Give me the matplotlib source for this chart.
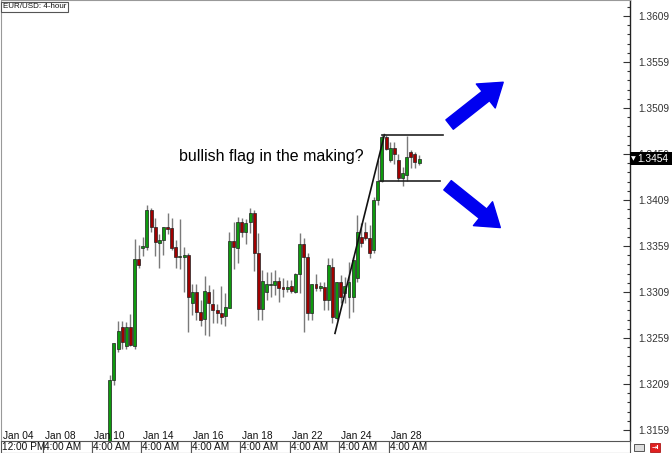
import matplotlib
matplotlib.use('Agg')
import matplotlib.pyplot as plt
from matplotlib.patches import Rectangle

PAIR_LABEL = 'EUR/USD: 4-hour'
NOTE = 'bullish flag in the making?'

# 4-hour candles (index 0 = first visible candle)
opens = [1.3143, 1.3213, 1.3247, 1.3271, 1.3250, 1.3271, 1.3250, 1.3345, 1.3357, 1.3358,
         1.3398, 1.3380, 1.3362, 1.3366, 1.3380, 1.3379, 1.3358, 1.3347, 1.3347, 1.3349,
         1.3297, 1.3309, 1.3287, 1.3280, 1.3309, 1.3296, 1.3289, 1.3286, 1.3283, 1.3292,
         1.3364, 1.3357, 1.3385, 1.3374, 1.3385, 1.3395, 1.3351, 1.3291, 1.3309, 1.3317,
         1.3317, 1.3321, 1.3314, 1.3312, 1.3316, 1.3309, 1.3328, 1.3361, 1.3347, 1.3286,
         1.3318, 1.3313, 1.3314, 1.3300, 1.3336, 1.3281, 1.3320, 1.3308, 1.3303, 1.3303,
         1.3324, 1.3369, 1.3374, 1.3368, 1.3355, 1.3409, 1.3430, 1.3478, 1.3453, 1.3466,
         1.3453, 1.3433, 1.3436, 1.3461, 1.3459, 1.3449]
highs = [1.3219, 1.3254, 1.3277, 1.3277, 1.3276, 1.3285, 1.3367, 1.3360, 1.3369, 1.3404,
         1.3400, 1.3389, 1.3372, 1.3380, 1.3395, 1.3389, 1.3366, 1.3388, 1.3358, 1.3351,
         1.3318, 1.3318, 1.3300, 1.3326, 1.3317, 1.3312, 1.3296, 1.3316, 1.3308, 1.3374,
         1.3385, 1.3391, 1.3389, 1.3388, 1.3400, 1.3398, 1.3373, 1.3333, 1.3331, 1.3331,
         1.3333, 1.3325, 1.3324, 1.3322, 1.3322, 1.3330, 1.3373, 1.3368, 1.3351, 1.3318,
         1.3329, 1.3320, 1.3320, 1.3346, 1.3346, 1.3320, 1.3327, 1.3325, 1.3342, 1.3347,
         1.3393, 1.3384, 1.3385, 1.3382, 1.3412, 1.3453, 1.3480, 1.3480, 1.3472, 1.3472,
         1.3459, 1.3445, 1.3479, 1.3463, 1.3461, 1.3458]
lows = [1.3137, 1.3208, 1.3244, 1.3247, 1.3247, 1.3250, 1.3247, 1.3335, 1.3348, 1.3355,
        1.3374, 1.3348, 1.3335, 1.3349, 1.3372, 1.3355, 1.3335, 1.3334, 1.3309, 1.3266,
        1.3284, 1.3278, 1.3272, 1.3262, 1.3261, 1.3275, 1.3275, 1.3274, 1.3272, 1.3292,
        1.3334, 1.3341, 1.3369, 1.3361, 1.3373, 1.3332, 1.3279, 1.3279, 1.3300, 1.3303,
        1.3306, 1.3298, 1.3304, 1.3309, 1.3308, 1.3308, 1.3308, 1.3266, 1.3279, 1.3279,
        1.3310, 1.3310, 1.3289, 1.3289, 1.3275, 1.3279, 1.3297, 1.3297, 1.3281, 1.3287,
        1.3320, 1.3358, 1.3366, 1.3346, 1.3351, 1.3404, 1.3429, 1.3463, 1.3450, 1.3448,
        1.3430, 1.3424, 1.3430, 1.3444, 1.3444, 1.3447]
closes = [1.3213, 1.3253, 1.3267, 1.3255, 1.3271, 1.3251, 1.3345, 1.3338, 1.3359, 1.3398,
          1.3380, 1.3363, 1.3366, 1.3380, 1.3378, 1.3357, 1.3347, 1.3348, 1.3349, 1.3303,
          1.3309, 1.3287, 1.3279, 1.3310, 1.3297, 1.3289, 1.3286, 1.3282, 1.3293, 1.3364,
          1.3358, 1.3385, 1.3374, 1.3384, 1.3395, 1.3351, 1.3291, 1.3321, 1.3318, 1.3318,
          1.3321, 1.3313, 1.3312, 1.3314, 1.3310, 1.3329, 1.3361, 1.3347, 1.3286, 1.3318,
          1.3313, 1.3316, 1.3300, 1.3338, 1.3282, 1.3320, 1.3303, 1.3316, 1.3320, 1.3344,
          1.3374, 1.3362, 1.3368, 1.3351, 1.3409, 1.3430, 1.3478, 1.3464, 1.3466, 1.3459,
          1.3433, 1.3438, 1.3456, 1.3456, 1.3450, 1.3454]

date_ticks = [-26.4, -16.2, -4.4, 7.6, 19.6, 31.6, 43.6, 55.6, 67.6]
date_labels = ['Jan 04', 'Jan 08', 'Jan 10', 'Jan 14', 'Jan 16', 'Jan 18',
               'Jan 22', 'Jan 24', 'Jan 28']
time_labels = ['12:00 PM'] + ['4:00 AM'] * 8

price_ticks = [1.3159, 1.3209, 1.3259, 1.3309, 1.3359, 1.3409,
               1.3459, 1.3509, 1.3559, 1.3609]

# drawn annotations, anchored in (candle index, price)
trend_x = [54.6, 66.6]
trend_y = [1.3264, 1.3480]
flag_top_x, flag_top = [65.9, 80.9], 1.3480
flag_bot_x, flag_bot = [65.4, 80.1], 1.3430
arrow_up = ((82.4, 1.3491), (95.4, 1.3537))
arrow_down = ((81.9, 1.3425), (94.7, 1.3379))

FONT = ['Liberation Sans', 'DejaVu Sans']
plt.rcParams['font.family'] = FONT

fig = plt.figure(figsize=(6.72, 4.53), dpi=100)
ax = fig.add_axes([0.0015, 12 / 453, 629 / 672, 441 / 453])
ax.set_xlim(-26.39, 126.15)
ax.set_ylim(1.31470, 1.36264)

# candles
for i, (o, h, l, c) in enumerate(zip(opens, highs, lows, closes)):
    up = c >= o
    ax.vlines(i, l, h, color='#7a7a7a', linewidth=1.0, zorder=2)
    body = abs(c - o) if abs(c - o) > 0.00005 else 0.00005
    ax.bar(i, body, bottom=min(o, c), width=0.72,
           color='#0e9a0e' if up else '#a00000',
           edgecolor='#202020', linewidth=0.5, zorder=3)

# trend line and flag
ax.plot(trend_x, trend_y, color='#111111', linewidth=1.2, zorder=4)
ax.plot(flag_top_x, [flag_top, flag_top], color='#222222', linewidth=1.2, zorder=4)
ax.plot(flag_bot_x, [flag_bot, flag_bot], color='#222222', linewidth=1.2, zorder=4)

arrow_style = 'simple,head_length=0.8,head_width=1.1,tail_width=0.43'
for tail, tip in (arrow_up, arrow_down):
    ax.annotate('', xy=tip, xytext=tail,
                arrowprops=dict(arrowstyle=arrow_style, mutation_scale=20,
                                color='#0000f0', shrinkA=0, shrinkB=0),
                zorder=5)

ax.text(16.7, 1.3456, NOTE, fontsize=11.5, color='black', va='center', ha='left')

# right price axis
ax.yaxis.tick_right()
ax.set_yticks(price_ticks)
ax.set_yticklabels(['%.4f' % p for p in price_ticks])
ax.set_yticks([p + k * 0.001 for p in price_ticks[:-1] for k in range(1, 5)]
              + [price_ticks[-1] + 0.001], minor=True)
ax.tick_params(axis='y', which='major', direction='in', length=5, width=0.8,
               pad=6, labelsize=7.3, labelcolor='#333333', color='#333333')
ax.tick_params(axis='y', which='minor', direction='in', length=2.5, width=0.8,
               color='#333333')
ax.set_xticks([])
for side in ('left', 'top'):
    ax.spines[side].set_color('#999999')
    ax.spines[side].set_linewidth(0.8)
ax.spines['right'].set_color('#222222')
ax.spines['right'].set_linewidth(1.0)
ax.spines['bottom'].set_visible(False)

# current price marker
last = closes[-1]
ax.add_patch(Rectangle((1.0, last - 0.00072), 0.08, 0.00144,
                       transform=ax.get_yaxis_transform(), facecolor='black',
                       edgecolor='none', clip_on=False, zorder=6))
ax.text(1.002, last, '\u25bc', transform=ax.get_yaxis_transform(), fontsize=4.5,
        color='white', va='center', ha='left', zorder=7, family=['DejaVu Sans'])
ax.text(1.011, last, '%.4f' % last, transform=ax.get_yaxis_transform(), fontsize=7.3,
        color='white', va='center', ha='left', zorder=7)

# date axis: two rows
xt = ax.get_xaxis_transform()
row_h = 12 / 441
edges = date_ticks + [ax.get_xlim()[1]]
for k, (d, t) in enumerate(zip(date_labels, time_labels)):
    ax.text(date_ticks[k] + 0.5, 0.0115, d, transform=xt, fontsize=7.3,
            color='#111111', va='center', ha='left', zorder=6)
    x0 = max(edges[k], ax.get_xlim()[0] + 0.05)
    ax.add_patch(Rectangle((x0, -row_h), edges[k + 1] - x0, row_h, transform=xt,
                           facecolor='white', edgecolor='#555555', linewidth=0.8,
                           clip_on=False, zorder=6))
    ax.text(x0 + 0.3, -row_h / 2, t, transform=xt, fontsize=7.3, color='#111111',
            va='center', ha='left', zorder=7, clip_on=False)

# chart title tag
fig.text(0.004, 1 - 7 / 453, PAIR_LABEL, fontsize=5.8, color='#111111',
         va='center', ha='left',
         bbox=dict(boxstyle='square,pad=0.2', facecolor='white', edgecolor='#555555',
                   linewidth=0.8))

# little toolbar icons, bottom right
fig.patches.append(Rectangle((634 / 672, 2 / 453), 10 / 672, 7 / 453,
                             transform=fig.transFigure, facecolor='#dddddd',
                             edgecolor='#555555', linewidth=0.7))
fig.patches.append(Rectangle((650 / 672, 1 / 453), 10 / 672, 9 / 453,
                             transform=fig.transFigure, facecolor='#e02020',
                             edgecolor='#a00000', linewidth=0.5))
fig.text(655 / 672, 5.5 / 453, '\u2192I', fontsize=4.5, color='white',
         ha='center', va='center', fontweight='bold', family=['DejaVu Sans'])

fig.savefig('out.png', dpi=100)
